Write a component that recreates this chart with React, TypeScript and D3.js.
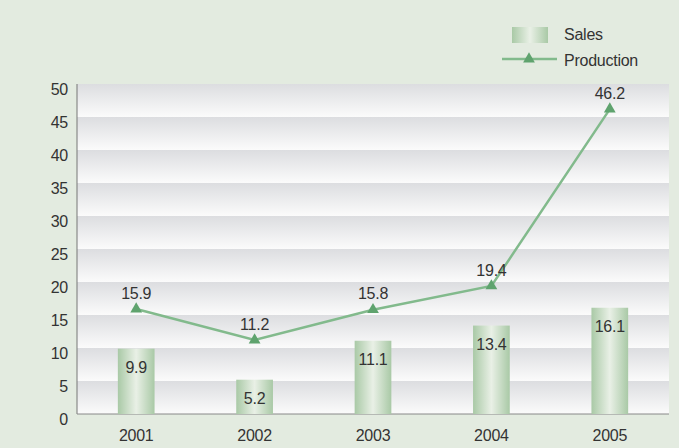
import React from "react";
import * as d3 from "d3";

const years = ["2001", "2002", "2003", "2004", "2005"];
const sales = [9.9, 5.2, 11.1, 13.4, 16.1];
const production = [15.9, 11.2, 15.8, 19.4, 46.2];
const yTicks = [0, 5, 10, 15, 20, 25, 30, 35, 40, 45, 50];

const W = 679;
const H = 448;
const margin = { top: 84, right: 10, bottom: 34, left: 77 };
const font = "'Liberation Sans', Arial, sans-serif";
const fs = 16;
const ls = -0.25;

export default function App() {
  const innerW = W - margin.left - margin.right;
  const innerH = H - margin.top - margin.bottom;

  const x = d3.scaleBand().domain(years).range([0, innerW]);
  const y = d3.scaleLinear().domain([0, 50]).range([innerH, 0]);
  const barW = x.bandwidth() * 0.31;
  const cx = (d: string) => (x(d) as number) + x.bandwidth() / 2;

  const line = d3
    .line<number>()
    .x((d, i) => cx(years[i]))
    .y((d) => y(d));

  const tri = d3.symbol().type(d3.symbolTriangle).size(60)();

  const txt = { fontFamily: font, fontSize: fs, letterSpacing: ls, fill: "#333" };

  return (
    <svg
      width={W}
      height={H}
      style={{ position: "absolute", left: 0, top: 0, background: "#e3ebe0" }}
    >
      <defs>
        <linearGradient id="band" x1="0" y1="0" x2="0" y2="1">
          <stop offset="0%" stopColor="#dcdde0" />
          <stop offset="100%" stopColor="#fbfbfb" />
        </linearGradient>
        <linearGradient id="bar" x1="0" y1="0" x2="1" y2="0">
          <stop offset="0%" stopColor="#a9c9a6" />
          <stop offset="50%" stopColor="#e9f0e6" />
          <stop offset="100%" stopColor="#a9c9a6" />
        </linearGradient>
      </defs>
      <rect x={0} y={0} width={W} height={H} fill="#e3ebe0" />
      <g transform={`translate(${margin.left},${margin.top})`}>
        {yTicks.slice(1).map((t) => (
          <rect
            key={t}
            x={0}
            y={y(t)}
            width={innerW}
            height={y(t - 5) - y(t)}
            fill="url(#band)"
          />
        ))}
        <line x1={0} x2={0} y1={0} y2={innerH} stroke="#777" />
        <line x1={0} x2={innerW} y1={innerH} y2={innerH} stroke="#888" />
        {yTicks.map((t) => (
          <text key={t} x={-9} y={y(t) + 5} dy="0.35em" textAnchor="end" {...txt}>
            {t}
          </text>
        ))}
        {years.map((yr) => (
          <text key={yr} x={cx(yr)} y={innerH + 21} dy="0.35em" textAnchor="middle" {...txt}>
            {yr}
          </text>
        ))}
        {sales.map((v, i) => (
          <g key={years[i]}>
            <rect
              x={cx(years[i]) - barW / 2}
              y={y(v)}
              width={barW}
              height={innerH - y(v)}
              fill="url(#bar)"
            />
            <text x={cx(years[i])} y={y(v) + 19} dy="0.35em" textAnchor="middle" {...txt}>
              {v}
            </text>
          </g>
        ))}
        <path
          d={line(production) || ""}
          fill="none"
          stroke="#82ba8c"
          strokeWidth={2.5}
        />
        {production.map((v, i) => (
          <g key={years[i]}>
            <path
              d={tri || ""}
              transform={`translate(${cx(years[i])},${y(v)})`}
              fill="#5fa36e"
            />
            <text x={cx(years[i])} y={y(v) - 16} dy="0.35em" textAnchor="middle" {...txt}>
              {v}
            </text>
          </g>
        ))}
      </g>
      <g>
        <rect x={512} y={27} width={36} height={16} fill="url(#bar)" />
        <text x={564} y={34} dy="0.35em" {...txt}>
          Sales
        </text>
        <line x1={502} x2={557} y1={59} y2={59} stroke="#82ba8c" strokeWidth={2.5} />
        <path d={tri || ""} transform="translate(529,59)" fill="#5fa36e" />
        <text x={564} y={60} dy="0.35em" {...txt}>
          Production
        </text>
      </g>
    </svg>
  );
}
